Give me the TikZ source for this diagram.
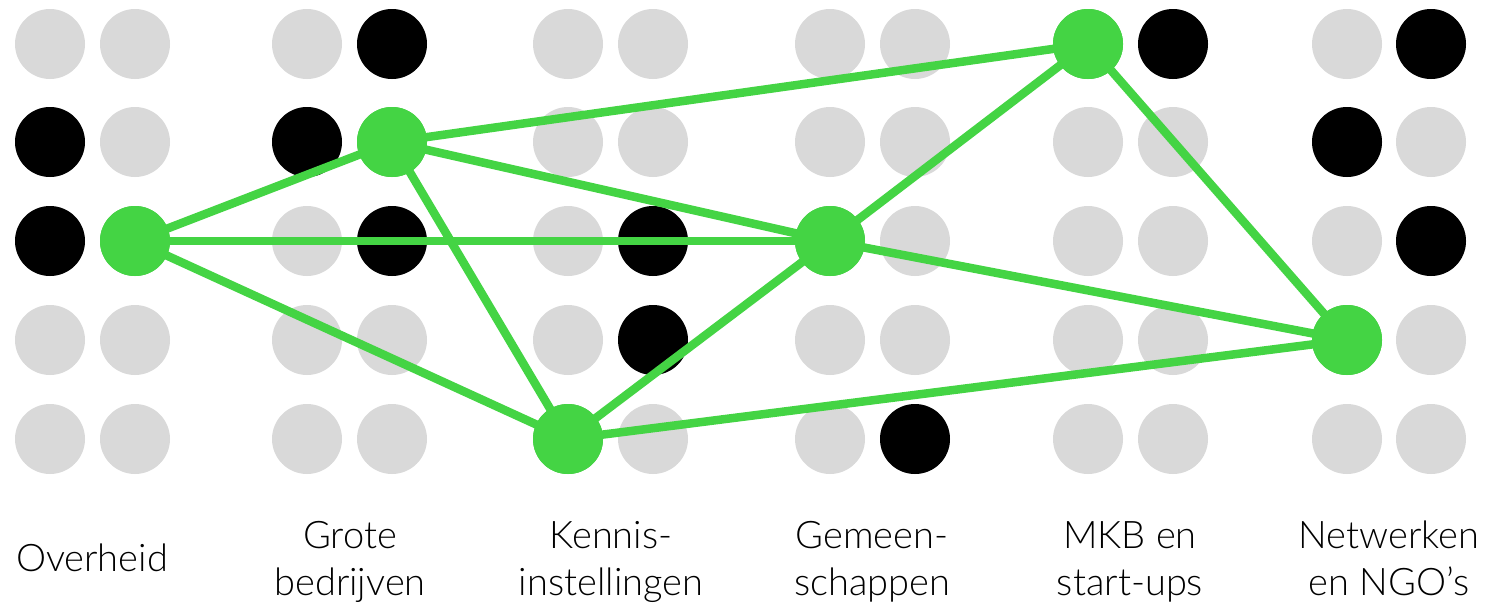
\documentclass[tikz,border=0pt]{standalone}
\usepackage{fontspec}
\setmainfont{Lato Light}
\definecolor{dotgray}{HTML}{D9D9D9}
\definecolor{linkgreen}{HTML}{44D444}
\begin{document}
\begin{tikzpicture}[x=1pt,y=-1pt,
  dot/.style={circle,minimum size=70pt,inner sep=0pt,fill=dotgray},
  blk/.style={circle,minimum size=70pt,inner sep=0pt,fill=black},
  hub/.style={circle,minimum size=70pt,inner sep=0pt,fill=linkgreen},
  link/.style={draw=linkgreen,line width=8.5pt},
  lbl/.style={align=center,font=\fontsize{38}{47}\selectfont,anchor=base}]
\useasboundingbox (0,0) rectangle (1486,603);
% grid
\foreach \x [count=\i] in {50,135,307,392,568,653,830,915,1088,1173,1347,1431}{
  \foreach \y [count=\j] in {44,142,241,340,439}{
    \node[dot] (g\i-\j) at (\x,\y) {};
  }
}
% black dots
\foreach \x/\y [count=\k] in {50/142,50/241,392/44,307/142,392/241,653/241,653/340,915/439,1173/44,1431/44,1347/142,1431/241}{
  \node[blk] (b\k) at (\x,\y) {};
}
% hubs
\node[hub] (ov) at (135,241) {};
\node[hub] (gr) at (392,142) {};
\node[hub] (ke) at (568,439) {};
\node[hub] (ge) at (830,241) {};
\node[hub] (mk) at (1088,44) {};
\node[hub] (ne) at (1347,340) {};
\draw[link] (ov.center) -- (gr.center);
\draw[link] (ov.center) -- (ge.center);
\draw[link] (ov.center) -- (ke.center);
\draw[link] (gr.center) -- (mk.center);
\draw[link] (gr.center) -- (ge.center);
\draw[link] (gr.center) -- (ke.center);
\draw[link] (ke.center) -- (ge.center);
\draw[link] (ke.center) -- (ne.center);
\draw[link] (ge.center) -- (mk.center);
\draw[link] (ge.center) -- (ne.center);
\draw[link] (mk.center) -- (ne.center);
\foreach \n in {ov,gr,ke,ge,mk,ne}{
  \fill[linkgreen] (\n.center) circle (35);
}
% labels
\node[lbl] (l1) at (92,571) {Overheid};
\node[lbl] (l2) at (350,595) {Grote\\bedrijven};
\node[lbl] (l3) at (611,595) {Kennis-\\instellingen};
\node[lbl] (l4) at (872,595) {Gemeen-\\schappen};
\node[lbl] (l5) at (1130,595) {MKB en\\start-ups};
\node[lbl] (l6) at (1389,595) {Netwerken\\en NGO’s};
\end{tikzpicture}
\end{document}
